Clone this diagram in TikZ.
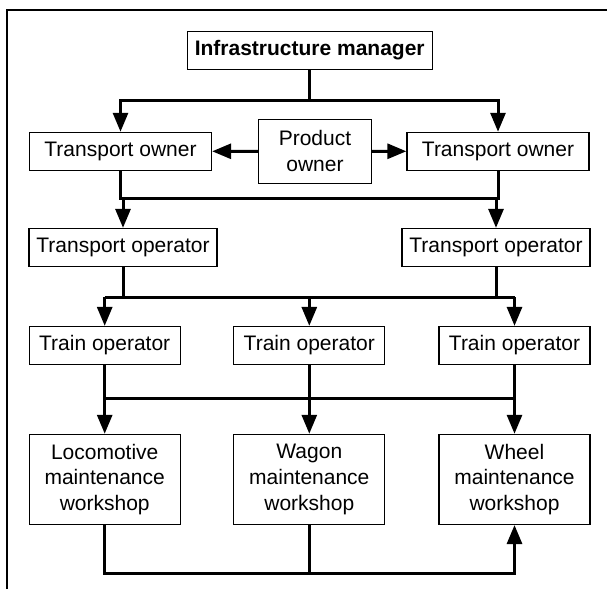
\documentclass[tikz,border=0pt]{standalone}
\usepackage{fontspec}
\setmainfont{Liberation Sans}
\usetikzlibrary{arrows.meta}
\usetikzlibrary{positioning}
\tikzset{
blk/.style = {draw, line width=1.3pt, align=center, inner sep=0pt,
              minimum height=38pt, font=\fontsize{21}{25.6}\selectfont},
link/.style = {line width=3pt},
arr/.style = {link, -{Triangle[length=19pt, width=15pt]}} % filled heads on the feeds
}
\newcommand{\blk}[4]{\node[blk, #3] (#1) at (#2) {#4};}

\begin{document}
\begin{tikzpicture}[x=1pt, y=-1pt]
        \useasboundingbox (0,0) rectangle (607,589);
        \draw[line width=2pt] (7.3,589) |- (607,10);
        \blk{im}{309.7,50.3}{minimum width=245pt}{\textbf{Infrastructure manager}};
        \blk{tow1}{120.5,151.4}{minimum width=182pt}{Transport owner};
        \blk{po}{315,151.2}{minimum width=113pt, minimum height=64pt}{Product\\owner};
        \blk{tow2}{498,151.4}{minimum width=182pt}{Transport owner};
        \blk{top1}{123,247.5}{minimum width=188pt}{Transport operator};
        \blk{top2}{496,247.5}{minimum width=188pt}{Transport operator};
        \blk{tr1}{104.7,345.5}{minimum width=151pt}{Train operator};
        \blk{tr2}{309.3,345.5}{minimum width=151pt}{Train operator};
        \blk{tr3}{514.5,345.5}{minimum width=151pt}{Train operator};
        \blk{ws1}{104.7,479.4}{minimum width=151pt, minimum height=90pt}{Locomotive\\maintenance\\workshop};
        \blk{ws2}{309.3,479.4}{minimum width=151pt, minimum height=90pt}{Wagon\\maintenance\\workshop};
        \blk{ws3}{514.5,479.4}{minimum width=151pt, minimum height=90pt}{Wheel\\maintenance\\workshop};
        % bus lines
        \coordinate (b1) at (309.7,100);
        \coordinate (b2) at (0,198);
        \coordinate (b3) at (0,297);
        \coordinate (b4) at (0,398.3);
        \coordinate (b5) at (309.3,573.3);
        \draw[link] (im) -- (b1);
        \draw[arr] (b1) -| (tow1);
        \draw[arr] (b1) -| (tow2);
        \draw[arr] (po) -- (tow1);
        \draw[arr] (po) -- (tow2);
        \draw[link] (tow1) -- (tow1 |- b2) -- (tow2 |- b2) -- (tow2);
        \draw[arr] (top1 |- b2) -- (top1);
        \draw[arr] (top2 |- b2) -- (top2);
        \draw[link] (top1) -- (top1 |- b3);
        \draw[link] (top2) -- (top2 |- b3);
        \draw[link] (tr1 |- b3) -- (tr3 |- b3);
        \draw[link] (tr1 |- b4) -- (tr3 |- b4);
        \foreach \i in {1,2,3} {
          \draw[arr] (tr\i |- b3) -- (tr\i);
          \draw[arr] (tr\i) -- (ws\i);
        }
        \draw[arr] (ws1) |- (b5) -| (ws3);
        \draw[link] (ws2) -- (b5);
        \end{tikzpicture}
\end{document}
